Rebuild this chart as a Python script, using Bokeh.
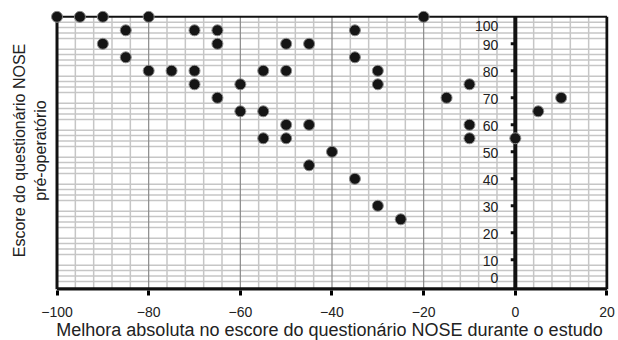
from bokeh.plotting import figure
from bokeh.models import Range1d, FixedTicker
from bokeh.core.properties import value
from bokeh.embed import file_html
from bokeh.resources import INLINE

# ---- data ----
improvement = [-100, -95, -90, -80, -20,
               -85, -70, -65, -35,
               -90, -65, -50, -45,
               -85, -35,
               -80, -75, -70, -55, -50, -30,
               -70, -60, -30, -10,
               -65, -15, 10,
               -60, -55, 5,
               -50, -45, -10,
               -55, -50, -10, 0,
               -40, -45, -35, -30, -25]
preop_score = [100, 100, 100, 100, 100,
               95, 95, 95, 95,
               90, 90, 90, 90,
               85, 85,
               80, 80, 80, 80, 80, 80,
               75, 75, 75, 75,
               70, 70, 70,
               65, 65, 65,
               60, 60, 60,
               55, 55, 55, 55,
               50, 45, 40, 30, 25]

xtick_vals = [-100, -80, -60, -40, -20, 0, 20]
xtick_labels = ["\u2212100", "\u221280", "\u221260", "\u221240", "\u221220", "0", "20"]
ytick_mid_vals = [10, 20, 30, 40, 50, 60, 70, 80, 90]
ytick_mid_labels = ["10", "20", "30", "40", "50", "60", "70", "80", "90"]
ytick_top_val = [100]
ytick_top_label = ["100"]
ytick_bot_val = [0]
ytick_bot_label = ["0"]

x_label = "Melhora absoluta no escore do questionário NOSE durante o estudo"
y_label = "Escore do questionário NOSE\npré-operatório"

# ---- frame geometry ----
X_LO, X_HI = -100, 20
Y_BOT, Y_TOP = -0.88, 100
FONT = "Liberation Sans"
GRID_LIGHT = "#c6c6c6"
GRID_DARK = "#8a8a8a"

p = figure(frame_width=558, frame_height=280,
           x_range=Range1d(-101.42, 20.33), y_range=Range1d(-1.37, 102.33),
           output_backend="svg", toolbar_location=None,
           min_border_left=50, min_border_right=8, min_border_top=10, min_border_bottom=50)
p.outline_line_color = None
p.xgrid.visible = False
p.ygrid.visible = False
p.background_fill_color = "white"
p.border_fill_color = "white"

# x axis (bottom)
xa = p.xaxis[0]
xa.ticker = FixedTicker(ticks=xtick_vals)
xa.major_label_overrides = dict(zip(xtick_vals, xtick_labels))
xa.axis_line_color = None
xa.major_tick_out = 5
xa.major_tick_in = 0
xa.major_tick_line_width = 3
xa.major_tick_line_color = "black"
xa.minor_tick_out = 0
xa.minor_tick_in = 0
xa.major_label_text_font = FONT
xa.major_label_text_font_size = "14px"
xa.major_label_text_color = "#222222"
xa.major_label_standoff = 11
xa.axis_label = x_label
xa.axis_label_text_font = FONT
xa.axis_label_text_font_size = "18px"
xa.axis_label_text_font_style = "normal"
xa.axis_label_text_color = "#222222"
xa.axis_label_standoff = 0

# y axis (left) used only for the title
ya = p.yaxis[0]
ya.ticker = FixedTicker(ticks=[])
ya.axis_line_color = None
ya.major_tick_out = 0
ya.major_tick_in = 0
ya.minor_tick_out = 0
ya.minor_tick_in = 0
ya.major_label_standoff = 0
ya.axis_label = y_label
ya.axis_label_text_font = FONT
ya.axis_label_text_font_size = "16px"
ya.axis_label_text_font_style = "normal"
ya.axis_label_text_color = "#222222"
ya.axis_label_standoff = 2

# grid lines
hgrid = [v for v in range(2, 100, 2) if v % 10 != 0]
vgrid_minor = [v for v in range(-96, 20, 4) if v % 20 != 0]
vgrid_major = [-80, -60, -40, -20]
p.segment(x0=X_LO, x1=X_HI, y0=hgrid, y1=hgrid, line_color=GRID_LIGHT, line_width=1.5)
p.segment(x0=vgrid_minor, x1=vgrid_minor, y0=Y_BOT, y1=Y_TOP, line_color=GRID_LIGHT, line_width=1.5)
p.segment(x0=vgrid_major, x1=vgrid_major, y0=Y_BOT, y1=Y_TOP, line_color=GRID_DARK, line_width=1.2)

# borders
p.segment(x0=[X_LO, X_HI], x1=[X_LO, X_HI], y0=Y_BOT, y1=Y_TOP, line_color="#111111", line_width=3)
p.segment(x0=X_LO, x1=X_HI, y0=Y_TOP, y1=Y_TOP, line_color="#111111", line_width=2)
p.segment(x0=X_LO, x1=X_HI, y0=Y_BOT, y1=Y_BOT, line_color="#111111", line_width=4)

# central y axis at x = 0
p.segment(x0=0, x1=0, y0=Y_BOT, y1=Y_TOP, line_color="#111111", line_width=4)
p.segment(x0=-1.0, x1=0, y0=ytick_mid_vals, y1=ytick_mid_vals, line_color="#111111", line_width=3)
common = dict(text_font=value(FONT), text_font_size="14px", text_color="#222222",
              text_align="right", x_offset=-17)
p.text(x=0, y=ytick_mid_vals, text=ytick_mid_labels, text_baseline="middle", y_offset=1, **common)
p.text(x=0, y=ytick_top_val, text=ytick_top_label, text_baseline="middle", y_offset=9, **common)
p.text(x=0, y=ytick_bot_val, text=ytick_bot_label, text_baseline="middle", y_offset=-8.5, **common)

# points
p.scatter(improvement, preop_score, size=11, fill_color="#151515",
          line_color="#8a8a8a", line_width=1)

open("out.html", "w").write(file_html(p, INLINE))
